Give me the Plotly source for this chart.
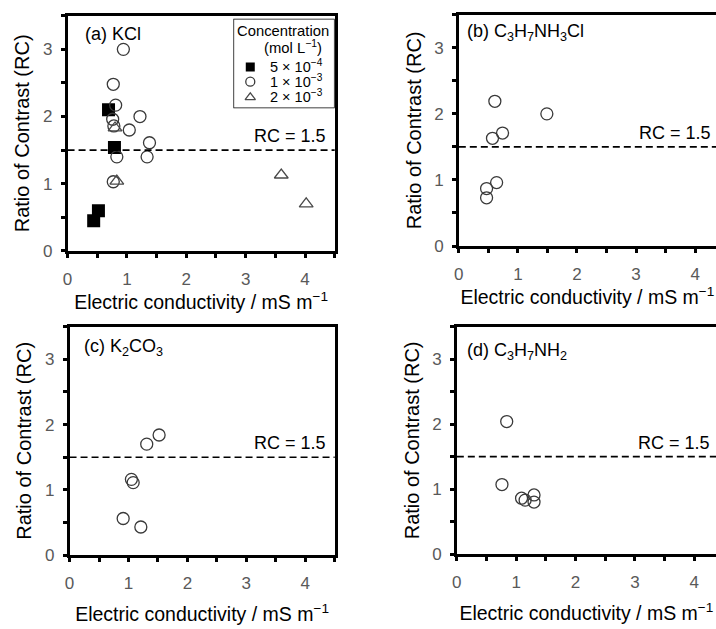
import plotly.graph_objects as go

W, H = 716, 629
FONT = "Liberation Sans, Arial, sans-serif"
TICK_GRAY = "#595959"

# ---- data: electric conductivity (mS/m) vs ratio of contrast ----
kcl_5e4_x = [0.69, 0.79, 0.52, 0.44]
kcl_5e4_y = [2.10, 1.54, 0.60, 0.45]
kcl_1e3_x = [0.94, 0.77, 0.81, 0.76, 1.22, 0.78, 1.04, 1.38, 0.83, 1.34, 0.77]
kcl_1e3_y = [3.00, 2.48, 2.17, 1.96, 2.00, 1.86, 1.80, 1.61, 1.40, 1.40, 1.03]
kcl_2e3_x = [0.80, 0.83, 3.60, 4.02]
kcl_2e3_y = [1.83, 1.04, 1.13, 0.70]

pacl_x = [0.61, 1.49, 0.74, 0.57, 0.64, 0.47, 0.47]
pacl_y = [2.19, 2.00, 1.71, 1.63, 0.96, 0.87, 0.73]

k2co3_x = [1.52, 1.31, 1.05, 1.08, 0.91, 1.21]
k2co3_y = [1.84, 1.70, 1.16, 1.11, 0.56, 0.43]

pa_x = [0.84, 0.76, 1.09, 1.15, 1.30, 1.30]
pa_y = [2.04, 1.07, 0.86, 0.83, 0.91, 0.80]

rc_threshold = 1.5
x_ticks = [0, 1, 2, 3, 4]
y_ticks = [0, 1, 2, 3]

panel_titles = ["(a) KCl",
                "(b) C<sub>3</sub>H<sub>7</sub>NH<sub>3</sub>Cl",
                "(c) K<sub>2</sub>CO<sub>3</sub>",
                "(d) C<sub>3</sub>H<sub>7</sub>NH<sub>2</sub>"]
legend_title = ["Concentration", "(mol L<sup>−1</sup>)"]
legend_names = ["5 × 10<sup>−4</sup>", "1 × 10<sup>−3</sup>", "2 × 10<sup>−3</sup>"]

# ---- panel geometry in pixels: (left, right, top, bottom, xmax) ----
panels = [
    (63, 332, 16, 255, 4.5),
    (457, 716, 15, 250, (716 - 457) / 59.5),
    (65, 332, 332, 564, 4.5),
    (455, 716, 332, 563, (716 - 455) / 59.8),
]

circle_style = dict(symbol="circle-open", size=12, color="#3a3a3a",
                    line=dict(width=1.3, color="#3a3a3a"))
square_style = dict(symbol="square", size=13, color="black",
                    line=dict(width=0, color="black"))
tri_style = dict(symbol="triangle-up-open", size=12, color="#4a4a4a",
                 line=dict(width=1.3, color="#4a4a4a"))
series_styles = [square_style, circle_style, tri_style]

fig = go.Figure()

# panel (a): three concentrations
for xs, ys, st, nm in zip([kcl_5e4_x, kcl_1e3_x, kcl_2e3_x],
                          [kcl_5e4_y, kcl_1e3_y, kcl_2e3_y],
                          series_styles, legend_names):
    fig.add_trace(go.Scatter(x=xs, y=ys, mode="markers", name=nm, marker=st,
                             showlegend=False, xaxis="x", yaxis="y"))
# panels (b)-(d)
for xs, ys, ax in [(pacl_x, pacl_y, "2"), (k2co3_x, k2co3_y, "3"), (pa_x, pa_y, "4")]:
    fig.add_trace(go.Scatter(x=xs, y=ys, mode="markers", showlegend=False,
                             marker=circle_style, xaxis="x" + ax, yaxis="y" + ax))

# ---- legend box for panel (a), laid out on a pixel-scaled overlay axis ----
LEG_L, LEG_R, LEG_T, LEG_B = 230, 332, 19, 110
leg_glyph_x = 247
leg_row_y = [68, 83, 99]
leg_text_x = 265
for st, ry, nm in zip(series_styles, leg_row_y, legend_names):
    small = dict(st, size=9)
    fig.add_trace(go.Scatter(x=[leg_glyph_x], y=[ry], mode="markers", marker=small,
                             showlegend=False, hoverinfo="skip", name=nm,
                             xaxis="x5", yaxis="y5"))

layout = dict(
    width=W, height=H, margin=dict(l=0, r=0, t=0, b=0),
    paper_bgcolor="white", plot_bgcolor="white",
    font=dict(family=FONT, color="black"),
    showlegend=False,
    xaxis5=dict(domain=[LEG_L / W, LEG_R / W], range=[LEG_L, LEG_R], visible=False,
                anchor="y5", fixedrange=True),
    yaxis5=dict(domain=[1 - LEG_B / H, 1 - LEG_T / H], range=[LEG_B, LEG_T], visible=False,
                anchor="x5", fixedrange=True),
)

annotations = []
shapes = [dict(type="rect", xref="x5", yref="y5", x0=LEG_L, x1=LEG_R, y0=LEG_T, y1=LEG_B,
               line=dict(color="black", width=1.5), layer="above")]
annotations.append(dict(xref="x5", yref="y5", x=280, y=31, text=legend_title[0],
                        showarrow=False, xanchor="center", yanchor="middle",
                        font=dict(size=14.8, family=FONT, color="black")))
annotations.append(dict(xref="x5", yref="y5", x=290, y=48, text=legend_title[1],
                        showarrow=False, xanchor="center", yanchor="middle",
                        font=dict(size=14.8, family=FONT, color="black")))
for ry, nm in zip(leg_row_y, legend_names):
    annotations.append(dict(xref="x5", yref="y5", x=leg_text_x, y=ry - 1, text=nm,
                            showarrow=False, xanchor="left", yanchor="middle",
                            font=dict(size=14.5, family=FONT, color="black")))

label_px = [(79, 35), (463, 33), (78, 353), (463, 357)]
rc_pos = [0.974, 0.988, 0.974, 0.985]

for i, (l, r, t, b, xmax) in enumerate(panels):
    sfx = "" if i == 0 else str(i + 1)
    closed = xmax >= 4.5
    axis_common = dict(
        showline=True, linecolor="black", linewidth=2.5,
        ticks="outside", ticklen=4, tickwidth=2.5, tickcolor="black",
        showgrid=False, zeroline=False,
        tickfont=dict(size=17, family=FONT, color=TICK_GRAY),
        minor=dict(dtick=0.5, ticks="outside", ticklen=4, tickwidth=2.5, tickcolor="black"),
    )
    layout["xaxis" + sfx] = dict(
        axis_common, domain=[l / W, r / W], range=[0, xmax],
        tickvals=x_ticks, mirror=True, anchor="y" + sfx, ticklabelstandoff=7,
        title=dict(text="Electric conductivity / mS m<sup>−1</sup>",
                   font=dict(size=19.5, family=FONT, color="black"),
                   standoff=0 if i < 2 else 16),
    )
    layout["yaxis" + sfx] = dict(
        axis_common, domain=[1 - b / H, 1 - t / H], range=[0, 3.5],
        tickvals=y_ticks, mirror=closed, anchor="x" + sfx, ticklabelstandoff=5,
        title=dict(text="Ratio of Contrast (RC)",
                   font=dict(size=20, family=FONT, color="black"),
                   standoff=8),
    )
    xr = "x" + sfx
    yr = "y" + sfx
    shapes.append(dict(type="line", xref=xr + " domain", yref=yr,
                       x0=0, x1=1, y0=rc_threshold, y1=rc_threshold,
                       line=dict(color="black", width=1.6, dash="7px,4px")))
    annotations.append(dict(xref=xr + " domain", yref=yr, x=rc_pos[i], y=rc_threshold,
                            xanchor="right", yanchor="middle", yshift=14,
                            text=f"RC = {rc_threshold}", showarrow=False,
                            font=dict(size=18, family=FONT, color="black")))
    px, py = label_px[i]
    annotations.append(dict(xref="paper", yref="paper", x=px / W, y=1 - py / H,
                            xanchor="left", yanchor="middle",
                            text=panel_titles[i], showarrow=False,
                            font=dict(size=18, family=FONT, color="black")))

layout["annotations"] = annotations
layout["shapes"] = shapes
fig.update_layout(**layout)

fig.write_html("out.html")
